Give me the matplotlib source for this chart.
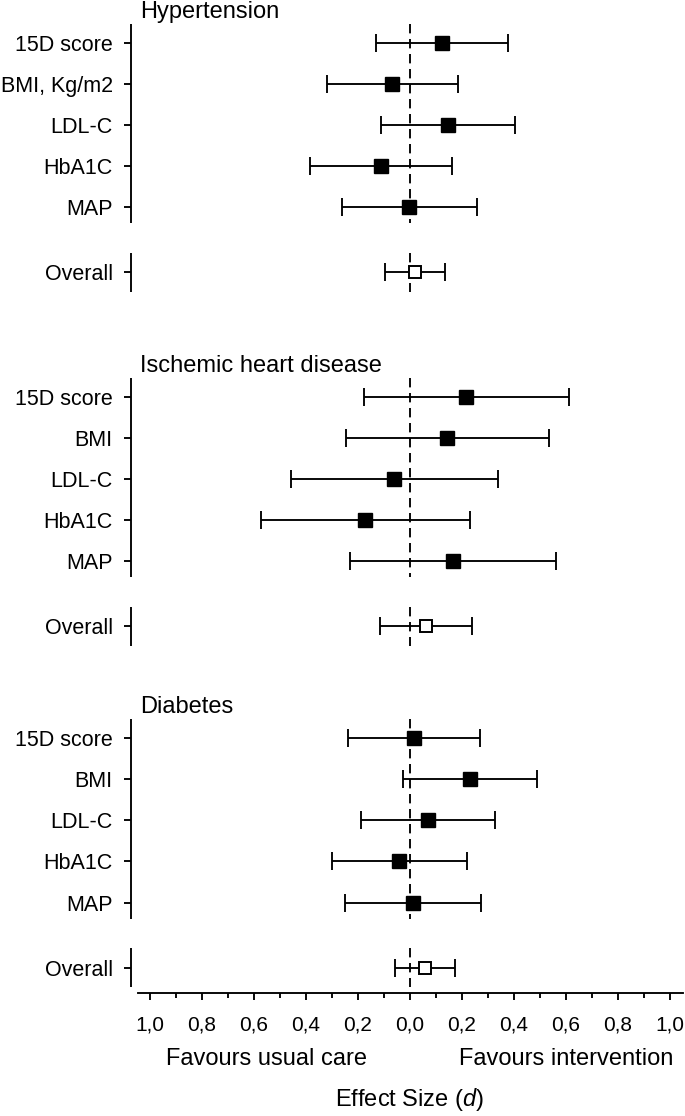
import numpy as np
import matplotlib
matplotlib.use("Agg")
import matplotlib.pyplot as plt
import matplotlib.transforms as mtransforms

plt.rcParams["font.family"] = ["Liberation Sans", "DejaVu Sans"]
plt.rcParams["mathtext.fontset"] = "custom"
plt.rcParams["mathtext.rm"] = "Liberation Sans"
plt.rcParams["mathtext.it"] = "Liberation Sans:italic"

# Forest plot data (effect size d with 95% CI)
groups = ["Hypertension", "Ischemic heart disease", "Diabetes"]
labels_hyp = ["15D score", "BMI, Kg/m2", "LDL-C", "HbA1C", "MAP"]
labels_ihd = ["15D score", "BMI", "LDL-C", "HbA1C", "MAP"]
labels_dm = ["15D score", "BMI", "LDL-C", "HbA1C", "MAP"]

hyp_d = [0.125, -0.068, 0.145, -0.113, -0.005]
hyp_lo = [-0.13, -0.32, -0.11, -0.385, -0.263]
hyp_hi = [0.378, 0.183, 0.403, 0.162, 0.257]

ihd_d = [0.217, 0.143, -0.062, -0.172, 0.165]
ihd_lo = [-0.178, -0.248, -0.457, -0.573, -0.232]
ihd_hi = [0.61, 0.535, 0.338, 0.232, 0.56]

dm_d = [0.017, 0.23, 0.07, -0.042, 0.012]
dm_lo = [-0.238, -0.028, -0.188, -0.30, -0.25]
dm_hi = [0.27, 0.49, 0.327, 0.22, 0.275]

overall_d = [0.02, 0.06, 0.058]
overall_lo = [-0.095, -0.115, -0.057]
overall_hi = [0.135, 0.237, 0.173]

labels_all = [labels_hyp, labels_ihd, labels_dm]
d_all = [hyp_d, ihd_d, dm_d]
lo_all = [hyp_lo, ihd_lo, dm_lo]
hi_all = [hyp_hi, ihd_hi, dm_hi]

# layout (row units)
group_start = [0, 8.61, 16.91]
overall_gap = 5.58

fig = plt.figure(figsize=(6.85, 11.16), dpi=100)
ax = fig.add_axes([137.5 / 685, 1 - 993 / 1116, (683 - 137.5) / 685, 993 / 1116])
ax.set_xlim(-1.048, 1.05)
ax.set_ylim(23.11, -1.046)

lw = 1.35

# offset the (hidden) left spine first, it resets the ticks
ax.spines["left"].set_position(("outward", 4.7))
ax.spines["left"].set_visible(False)
ax.spines["top"].set_visible(False)
ax.spines["right"].set_visible(False)
ax.spines["bottom"].set_linewidth(lw)

ytr = ax.get_yaxis_transform()
spine_x = -6.5 / 545.5

yticks, yticklabels = [], []
for g in range(3):
    s = group_start[g]
    rows = s + np.arange(5)
    d = np.array(d_all[g])
    lo = np.array(lo_all[g])
    hi = np.array(hi_all[g])
    ov_row = s + overall_gap

    # left spine pieces and dashed zero line
    for y0, y1 in [(s - 0.47, s + 4.39), (ov_row - 0.48, ov_row + 0.48)]:
        ax.plot([spine_x, spine_x], [y0, y1], color="black", lw=lw,
                transform=ytr, clip_on=False, solid_capstyle="butt")
        ax.plot([0, 0], [y0, y1], color="black", lw=lw, dashes=[5, 3], zorder=1)

    ax.errorbar(d, rows, xerr=[d - lo, hi - d], fmt="none", ecolor="black",
                elinewidth=lw, capsize=6.4, capthick=lw, zorder=2)
    ax.plot(d, rows, "s", color="black", ms=9.4, zorder=3)

    od = overall_d[g]
    ax.errorbar([od], [ov_row], xerr=[[od - overall_lo[g]], [overall_hi[g] - od]],
                fmt="none", ecolor="black", elinewidth=lw, capsize=6.4,
                capthick=lw, zorder=2)
    ax.plot([od], [ov_row], "s", mfc="white", mec="black", mew=1.4, ms=9, zorder=3)

    ax.text(0.005, s - 0.6, groups[g], transform=ytr, fontsize=17,
            ha="left", va="baseline", clip_on=False)

    yticks += list(rows) + [ov_row]
    yticklabels += labels_all[g] + ["Overall"]

ax.set_yticks(yticks)
ax.set_yticklabels(yticklabels)
ax.tick_params(axis="y", length=4.7, width=lw, pad=8.5, labelsize=15.5)

major = np.round(np.arange(-1.0, 1.01, 0.2), 1)
ax.set_xticks(major)
ax.set_xticklabels([f"{abs(v):.1f}".replace(".", ",") for v in major])
ax.set_xticks(np.round(np.arange(-0.9, 0.91, 0.2), 1), minor=True)
ax.tick_params(axis="x", which="major", length=5, width=lw, pad=11, labelsize=15)
ax.tick_params(axis="x", which="minor", length=3.6, width=lw)

btr = mtransforms.blended_transform_factory(ax.transData, fig.transFigure)
ax.text(-0.55, 1 - 1065 / 1116, "Favours usual care", transform=btr,
        fontsize=17, ha="center", va="baseline")
ax.text(0.6, 1 - 1065 / 1116, "Favours intervention", transform=btr,
        fontsize=17, ha="center", va="baseline")
ax.text(0, 1 - 1106 / 1116, "Effect Size ($d$)", transform=btr,
        fontsize=17, ha="center", va="baseline")

fig.savefig("out.png", dpi=100)
